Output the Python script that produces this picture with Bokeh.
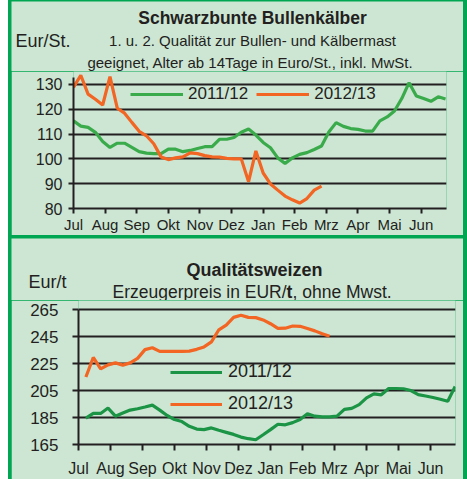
from bokeh.plotting import figure
from bokeh.models import FixedTicker, Label, Legend, LegendItem, Range1d
from bokeh.layouts import column
from bokeh.embed import file_html
from bokeh.resources import INLINE

FONT = "Liberation Sans"
BG = "#cde6d4"
BORDER = "#00a651"
GREEN1 = "#3aab4a"
GREEN2 = "#1b9445"
ORANGE = "#f26522"
INK = "#231f20"

months = ["Jul", "Aug", "Sep", "Okt", "Nov", "Dez", "Jan", "Feb", "Mrz", "Apr", "Mai", "Jun"]
WEEKS_PER_MONTH = 52 / 12

# Schwarzbunte Bullenkälber, EUR/St., weekly from first week of July
bull_ticks = [80, 90, 100, 110, 120, 130]
bull_1112_start = 0
bull_1112 = [115.3, 113.2, 112.7, 110.7, 107.0, 104.6, 106.3, 106.3, 104.6, 102.9,
             102.3, 102.1, 102.1, 103.9, 103.9, 102.9, 103.4, 104.2, 104.9, 104.9,
             107.9, 107.9, 108.6, 110.7, 112.0, 109.6, 106.6, 104.5, 100.4, 98.1,
             100.4, 101.8, 102.5, 103.8, 105.2, 110.8, 114.6, 113.1, 112.2, 111.9,
             111.2, 111.2, 115.3, 116.9, 119.3, 124.3, 130.7, 125.3, 124.3, 123.2,
             125.0, 124.1]
bull_1213_start = 0
bull_1213 = [128.8, 133.7, 126.1, 124.0, 121.7, 133.1, 120.4, 118.4, 114.7, 111.1,
             109.3, 106.1, 100.8, 99.7, 100.4, 100.8, 102.4, 102.1, 101.3, 100.8,
             100.7, 100.2, 100.0, 100.0, 90.8, 103.2, 94.3, 89.9, 87.4, 85.0,
             83.5, 82.2, 84.0, 87.4, 89.0]

# Qualitätsweizen, EUR/t
wheat_ticks = [165, 185, 205, 225, 245, 265]
wheat_1112_start = 1
wheat_1112 = [184.5, 188.0, 188.0, 192.0, 186.0, 188.3, 190.5, 191.5, 192.8, 194.2,
              190.5, 186.5, 183.5, 182.0, 178.5, 176.4, 176.0, 177.3, 175.5, 174.0,
              172.5, 170.5, 169.3, 168.5, 172.2, 176.0, 180.0, 179.6, 181.2, 183.5,
              187.8, 186.0, 185.5, 185.5, 186.0, 191.0, 191.8, 194.5, 199.5, 202.5,
              201.8, 206.5, 206.5, 206.3, 205.0, 202.0, 200.9, 199.8, 198.5, 197.0,
              208.0]
wheat_1213_start = 1
wheat_1213 = [215.0, 229.5, 221.0, 224.0, 225.5, 223.8, 225.5, 228.8, 235.3, 236.7,
              234.0, 234.0, 234.0, 234.0, 234.2, 235.5, 237.3, 241.0, 250.0, 253.5,
              259.2, 260.8, 259.2, 259.0, 257.3, 254.5, 251.0, 251.2, 252.8, 252.6,
              251.0, 249.2, 247.0, 245.2]


def xs(start, vals):
    return [(start + i) / WEEKS_PER_MONTH for i in range(len(vals))]


def style_axes(p, yticks, tick_out, x_standoff, y_standoff, xsize, ysize):
    p.xaxis.ticker = FixedTicker(ticks=list(range(12)))
    p.xaxis.major_label_overrides = {i: m for i, m in enumerate(months)}
    p.yaxis.ticker = FixedTicker(ticks=yticks)
    for ax in (p.xaxis, p.yaxis):
        ax.axis_line_color = INK
        ax.axis_line_width = 2
        ax.major_tick_line_color = INK
        ax.major_tick_line_width = 2
        ax.major_tick_in = 0
        ax.major_tick_out = tick_out
        ax.minor_tick_line_color = None
        ax.major_label_text_font = FONT
        ax.major_label_text_color = INK
        ax.axis_label_standoff = 0
    p.xaxis.major_label_text_font_size = xsize
    p.yaxis.major_label_text_font_size = ysize
    p.xaxis.major_label_standoff = x_standoff
    p.yaxis.major_label_standoff = y_standoff
    p.xgrid.visible = False
    p.ygrid.grid_line_color = INK
    p.ygrid.grid_line_width = 2


def header(height):
    h = figure(width=452, height=height, x_range=Range1d(0, 452), y_range=Range1d(0, height),
               x_axis_type=None, y_axis_type=None, output_backend="svg", toolbar_location=None,
               min_border=0, background_fill_color=BG, border_fill_color=BG,
               outline_line_color=None, frame_align=False)
    h.grid.visible = False
    return h


def lab(p, text, sx, sy, size, align="center", bold=False):
    p.add_layout(Label(x=sx, y=sy, x_units="screen", y_units="screen", text=text,
                       text_font=FONT, text_font_size=size, text_align=align,
                       text_baseline="middle", text_color=INK,
                       text_font_style="bold" if bold else "normal"))


# ---------- Panel 1 ----------
h1 = header(70)
lab(h1, "Schwarzbunte Bullenkälber", 241, 54, "17.5px", bold=True)
lab(h1, "Eur/St.", 4, 31, "18px", align="left")
lab(h1, "1. u. 2. Qualität zur Bullen- und Kälbermast", 241, 31, "15px")
lab(h1, "geeignet, Alter ab 14Tage in Euro/St.,  inkl. MwSt.", 241, 9, "15px")

p1 = figure(width=452, height=164, x_range=Range1d(0, 11.8), y_range=Range1d(80, 135.2),
            output_backend="svg", toolbar_location=None, frame_align=False,
            min_border_left=62, min_border_right=17, min_border_top=0, min_border_bottom=26,
            background_fill_color=BG, border_fill_color=BG, outline_line_color=None)
style_axes(p1, bull_ticks, 5, 2, 6, "15px", "16px")
p1.yaxis.bounds = (80, 132.8)
g1 = p1.line(xs(bull_1112_start, bull_1112), bull_1112, line_color=GREEN1, line_width=3.2)
o1 = p1.line(xs(bull_1213_start, bull_1213), bull_1213, line_color=ORANGE, line_width=3.2)
leg1 = Legend(items=[LegendItem(label="2011/12", renderers=[g1]),
                     LegendItem(label="2012/13", renderers=[o1])],
              location=(57, 104), orientation="horizontal", background_fill_alpha=0,
              border_line_color=None, padding=0, margin=0, spacing=8, label_standoff=5,
              glyph_width=53, glyph_height=18, label_height=18,
              label_text_font=FONT, label_text_font_size="17px", label_text_color=INK)
p1.add_layout(leg1)

# ---------- Panel 2 ----------
h2 = header(62)
lab(h2, "Qualitätsweizen", 243, 31, "18px", bold=True)
lab(h2, "Eur/t", 17, 19, "18px", align="left")
lab(h2, "Erzeugerpreis in EUR/", 101, 9, "17.5px", align="left")
lab(h2, "t", 275, 9, "17.5px", align="left", bold=True)
lab(h2, ", ohne Mwst.", 281, 9, "17.5px", align="left")

p2 = figure(width=452, height=179, x_range=Range1d(0, 11.78), y_range=Range1d(165, 271.7),
            output_backend="svg", toolbar_location=None, frame_align=False,
            min_border_left=67, min_border_right=8, min_border_top=0, min_border_bottom=35,
            background_fill_color=BG, border_fill_color=BG, outline_line_color=None)
style_axes(p2, wheat_ticks, 6, 9, 14, "16px", "17px")
p2.yaxis.bounds = (165, 265)
g2 = p2.line(xs(wheat_1112_start, wheat_1112), wheat_1112, line_color=GREEN2, line_width=3.2)
o2 = p2.line(xs(wheat_1213_start, wheat_1213), wheat_1213, line_color=ORANGE, line_width=3.2)
leg2 = Legend(items=[LegendItem(label="2011/12", renderers=[g2]),
                     LegendItem(label="2012/13", renderers=[o2])],
              location=(92, 30), orientation="vertical", background_fill_alpha=0,
              border_line_color=None, padding=0, margin=0, spacing=11, label_standoff=6,
              glyph_width=52, glyph_height=18, label_height=18,
              label_text_font=FONT, label_text_font_size="18px", label_text_color=INK)
p2.add_layout(leg2)

h1.margin = (1, 4, 0, 3)
p1.margin = (0, 4, 0, 3)
h2.margin = (3, 4, 0, 3)
p2.margin = (0, 4, 0, 3)
layout = column(h1, p1, h2, p2, spacing=0, styles={"background-color": BORDER})
layout.margin = (0, 0, 0, 8)

open("out.html", "w").write(file_html(layout, INLINE))
